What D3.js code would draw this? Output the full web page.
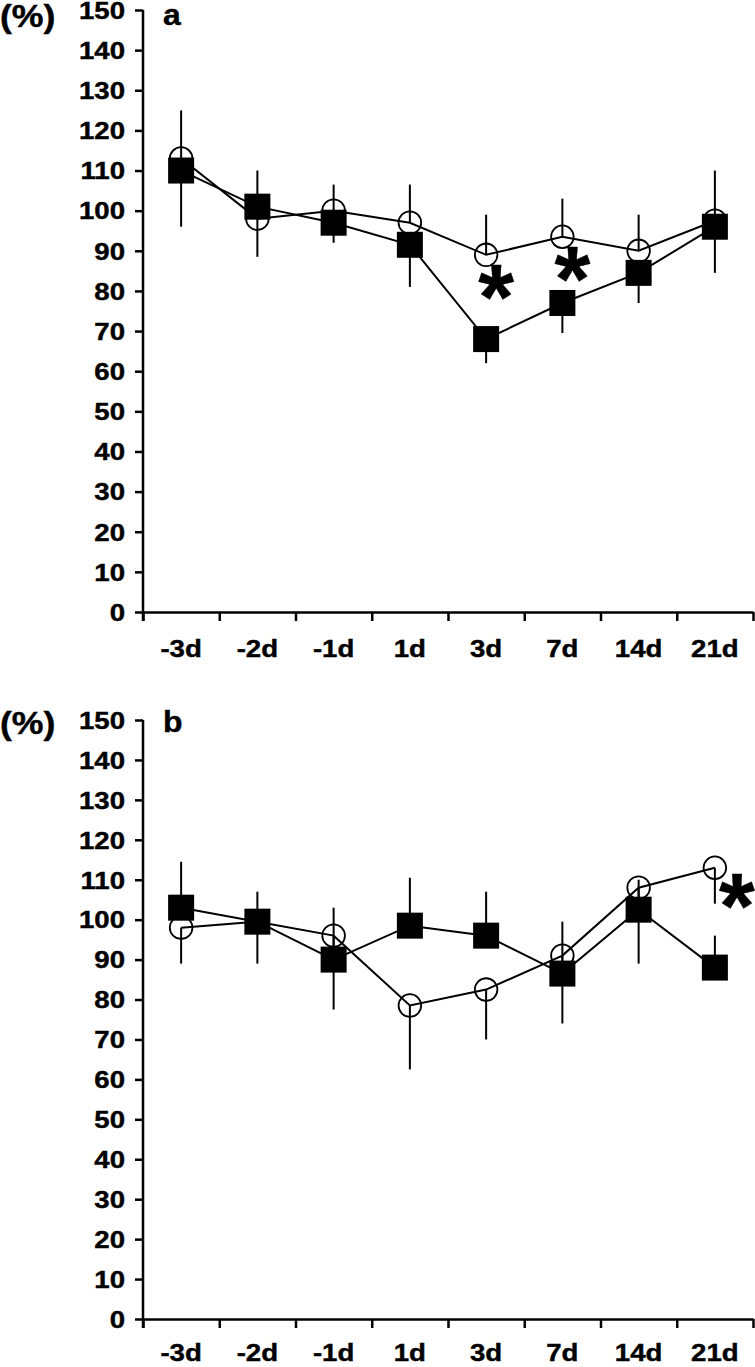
<!DOCTYPE html>
<html>
<head>
<meta charset="utf-8">
<script src="https://cdn.jsdelivr.net/npm/d3@7"></script>
<style>
  body { margin: 0; background: #fff; }
  text { font-family: "Liberation Sans", Arial, sans-serif; font-weight: bold; fill: #000; stroke: #000; stroke-width: 0.4px; }
</style>
</head>
<body>
<script>
// time points
var cats = ["-3d", "-2d", "-1d", "1d", "3d", "7d", "14d", "21d"];
var yTicks = d3.range(0, 151, 10);

// panel a: open circles (upper whisker), filled squares (lower whisker)
var aOpen      = [113, 98, 100, 97, 89, 93.5, 90, 97.5];
var aOpenEnd   = [125, 110, 106.5, 106.5, 99, 103, 99, 110];
var aFilled    = [110, 101, 97, 91.5, 68, 77, 84.5, 96];
var aFilledEnd = [96, 88.5, 92, 81, 62, 69.5, 77, 84.5];
var aStars = [{c: "3d", v: 82}, {c: "7d", v: 86.5}];

// panel b: open circles (lower whisker), filled squares (upper whisker)
var bOpen      = [98, 99.5, 96, 78.5, 82.5, 91, 108, 113];
var bOpenEnd   = [89, 89, 77.5, 62.5, 70, 74, 89, 104];
var bFilled    = [103, 99.5, 90, 98.5, 96, 86.5, 102.5, 88];
var bFilledEnd = [114.5, 107, 103, 110.5, 107, 99.5, 110, 96];
var bStars = [{c: "21d", v: 107}];

var W = 755, H = 1367;
var svg = d3.select("body").append("svg").attr("width", W).attr("height", H);

function drawPanel(p) {
    var x = d3.scaleBand().domain(cats).range([143, 753]);
    var xb = d3.scaleLinear().domain([0, cats.length]).range([143, 753]);
    var y = d3.scaleLinear().domain([0, 150]).range([p.bottom, p.top]);
    var cx = function(c) { return x(c) + x.bandwidth() / 2; };

    var g = svg.append("g");

    // x axis: ticks at category boundaries
    var gx = g.append("g")
        .attr("transform", "translate(0," + p.bottom + ")")
        .call(d3.axisBottom(xb).tickValues(d3.range(0, cats.length + 1)).tickFormat("")
            .tickSizeInner(9).tickSizeOuter(0));
    gx.selectAll("path, line").attr("stroke", "#000").attr("stroke-width", 2.5);

    // x labels centred in categories
    var gl = g.append("g")
        .attr("transform", "translate(0," + p.bottom + ")")
        .call(d3.axisBottom(x).tickSize(0));
    gl.select(".domain").remove();
    gl.selectAll("text")
        .attr("y", p.labelDy).attr("dy", 0)
        .attr("font-size", 23)
        .attr("transform", "scale(1.2,1)");

    // y axis
    var gy = g.append("g")
        .attr("transform", "translate(143,0)")
        .call(d3.axisLeft(y).tickValues(yTicks).tickSizeInner(8).tickSizeOuter(0).tickPadding(7));
    gy.selectAll("path, line").attr("stroke", "#000").attr("stroke-width", 2.5);
    gy.selectAll("text")
        .attr("font-size", 23)
        .attr("dy", "0.36em")
        .attr("transform", "scale(1.2,1)");
    gy.selectAll(".domain").attr("d", "M0," + (p.bottom + 9) + "V" + p.top);

    // (%) and panel letter
    g.append("text").attr("x", 0).attr("y", p.pctY).attr("font-size", 31)
        .attr("transform", "scale(1.15,1)").text("(%)");
    g.append("text").attr("x", 163 / 1.1).attr("y", p.pctY - 2).attr("font-size", 29)
        .attr("transform", "scale(1.1,1)").text(p.label);

    var line = d3.line().x(function(d) { return cx(d.c); }).y(function(d) { return y(d.v); });
    var toPts = function(vals, ends) {
        return cats.map(function(c, i) { return {c: c, v: vals[i], e: ends[i]}; });
    };
    var open = toPts(p.open, p.openEnd);
    var filled = toPts(p.filled, p.filledEnd);

    // open circle series
    g.append("path").datum(open).attr("d", line)
        .attr("fill", "none").attr("stroke", "#000").attr("stroke-width", 2);
    g.selectAll(".eo").data(open).enter().append("line")
        .attr("x1", function(d) { return cx(d.c); }).attr("x2", function(d) { return cx(d.c); })
        .attr("y1", function(d) { return y(d.v); }).attr("y2", function(d) { return y(d.e); })
        .attr("stroke", "#000").attr("stroke-width", 2);
    g.selectAll(".mo").data(open).enter().append("circle")
        .attr("cx", function(d) { return cx(d.c); }).attr("cy", function(d) { return y(d.v); })
        .attr("r", 11.3).attr("fill", "none").attr("stroke", "#000").attr("stroke-width", 1.8);

    // filled square series
    g.append("path").datum(filled).attr("d", line)
        .attr("fill", "none").attr("stroke", "#000").attr("stroke-width", 2);
    g.selectAll(".ef").data(filled).enter().append("line")
        .attr("x1", function(d) { return cx(d.c); }).attr("x2", function(d) { return cx(d.c); })
        .attr("y1", function(d) { return y(d.v); }).attr("y2", function(d) { return y(d.e); })
        .attr("stroke", "#000").attr("stroke-width", 2);
    g.selectAll(".mf").data(filled).enter().append("rect")
        .attr("x", function(d) { return cx(d.c) - 13; }).attr("y", function(d) { return y(d.v) - 13; })
        .attr("width", 26).attr("height", 26).attr("fill", "#000");

    // significance stars
    g.selectAll(".st").data(p.stars).enter().append("text")
        .attr("x", function(d) { return cx(d.c) + p.starDx; })
        .attr("y", function(d) { return y(d.v) + 46; })
        .attr("text-anchor", "middle")
        .attr("font-size", 92)
        .attr("stroke-width", 0)
        .text("*");
}

drawPanel({label: "a", top: 10, bottom: 612, pctY: 27, labelDy: 45,
    open: aOpen, openEnd: aOpenEnd, filled: aFilled, filledEnd: aFilledEnd,
    stars: aStars, starDx: 10});
drawPanel({label: "b", top: 720, bottom: 1319, pctY: 734, labelDy: 42,
    open: bOpen, openEnd: bOpenEnd, filled: bFilled, filledEnd: bFilledEnd,
    stars: bStars, starDx: 22});
</script>
</body>
</html>
